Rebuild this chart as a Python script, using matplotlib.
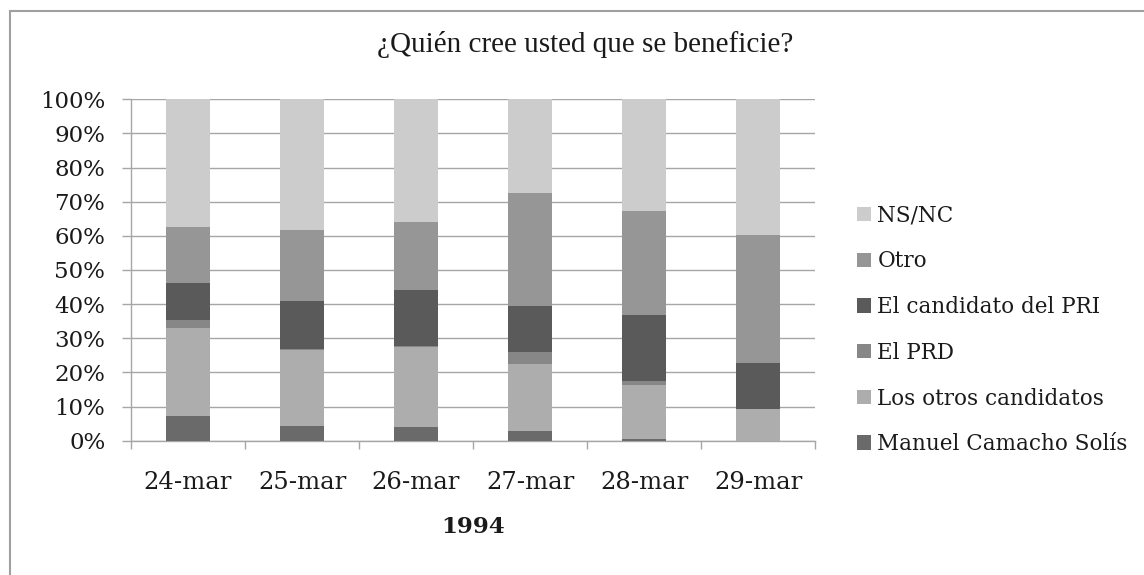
#!/usr/bin/env python3
"""Stacked 100% bars: ¿Quién cree usted que se beneficie? (marzo 1994)."""

import numpy as np
import matplotlib
matplotlib.use("Agg")
import matplotlib.pyplot as plt
from matplotlib.patches import Patch, Rectangle

dates = ["24-mar", "25-mar", "26-mar", "27-mar", "28-mar", "29-mar"]
manuel = [7.2, 4.4, 3.9, 2.7, 0.5, 0.0]
otros_candidatos = [25.9, 22.2, 23.5, 19.8, 15.8, 9.3]
prd = [2.3, 0.3, 0.3, 3.4, 1.3, 0.0]
pri = [10.9, 14.1, 16.3, 13.5, 19.2, 13.6]
otro = [16.4, 20.6, 20.2, 33.1, 30.4, 37.3]
ns_nc = [37.3, 38.4, 35.8, 27.5, 32.8, 39.8]

series = [
    ("Manuel Camacho Solís", manuel, "#6a6a6a"),
    ("Los otros candidatos", otros_candidatos, "#adadad"),
    ("El PRD", prd, "#878787"),
    ("El candidato del PRI", pri, "#5a5a5a"),
    ("Otro", otro, "#969696"),
    ("NS/NC", ns_nc, "#cccccc"),
]

# Cambria-like body text: DejaVu Serif is the closest width match installed
plt.rcParams["font.family"] = ["DejaVu Serif"]
GRID = "#a6a6a6"
INK = "#1a1a1a"

fig = plt.figure(figsize=(11.44, 5.75), dpi=100)
ax = fig.add_axes([131 / 1144, 1 - 440.7 / 575, 684 / 1144, 341.4 / 575])

x = np.arange(len(dates))
bottom = np.zeros(len(dates))
for label, values, color in series:
    values = np.asarray(values, dtype=float)
    ax.bar(x, values, 0.39, bottom=bottom, color=color, label=label, zorder=3)
    bottom += values

ax.set_xlim(-0.5, len(dates) - 0.5)
ax.set_ylim(0, 100)
ax.set_yticks(np.arange(0, 101, 10))
ax.set_yticklabels([f"{v}%" for v in range(0, 101, 10)])
ax.set_xticks(x)
ax.set_xticklabels(dates)
ax.set_xticks(np.arange(-0.5, len(dates), 1), minor=True)
ax.tick_params(axis="x", which="major", length=0, pad=22,
               labelsize=17.5, labelcolor=INK)
ax.tick_params(axis="x", which="minor", length=6, width=1.0, color=GRID)
ax.tick_params(axis="y", length=6.5, width=1.0, color=GRID, pad=12,
               labelsize=16.5, labelcolor=INK)
ax.grid(axis="y", color=GRID, linewidth=1.0, zorder=0)
for side in ("top", "right"):
    ax.spines[side].set_visible(False)
for side in ("left", "bottom"):
    ax.spines[side].set_color(GRID)
    ax.spines[side].set_linewidth(1.0)

ax.set_xlabel("1994", fontsize=16.5, fontweight="bold", labelpad=16,
              color=INK)
fig.text(585 / 1144, 1 - 45 / 575, "¿Quién cree usted que se beneficie?",
         ha="center", va="center", fontsize=21, family="Liberation Serif",
         color=INK)

handles = [Patch(facecolor=c, label=l) for l, _, c in reversed(series)]
fig.legend(handles=handles, loc="center left",
           bbox_to_anchor=(857 / 1144, 1 - 330 / 575), frameon=False,
           fontsize=15.5, handlelength=0.65, handleheight=0.65,
           handletextpad=0.3, labelspacing=1.1, borderpad=0,
           borderaxespad=0, labelcolor=INK)

fig.patches.append(Rectangle((10 / 1144, -0.1), 1.2, 1 - 11 / 575 + 0.1,
                             transform=fig.transFigure, fill=False,
                             edgecolor="#a0a0a0", linewidth=1.5))

fig.savefig("out.png", dpi=100)
